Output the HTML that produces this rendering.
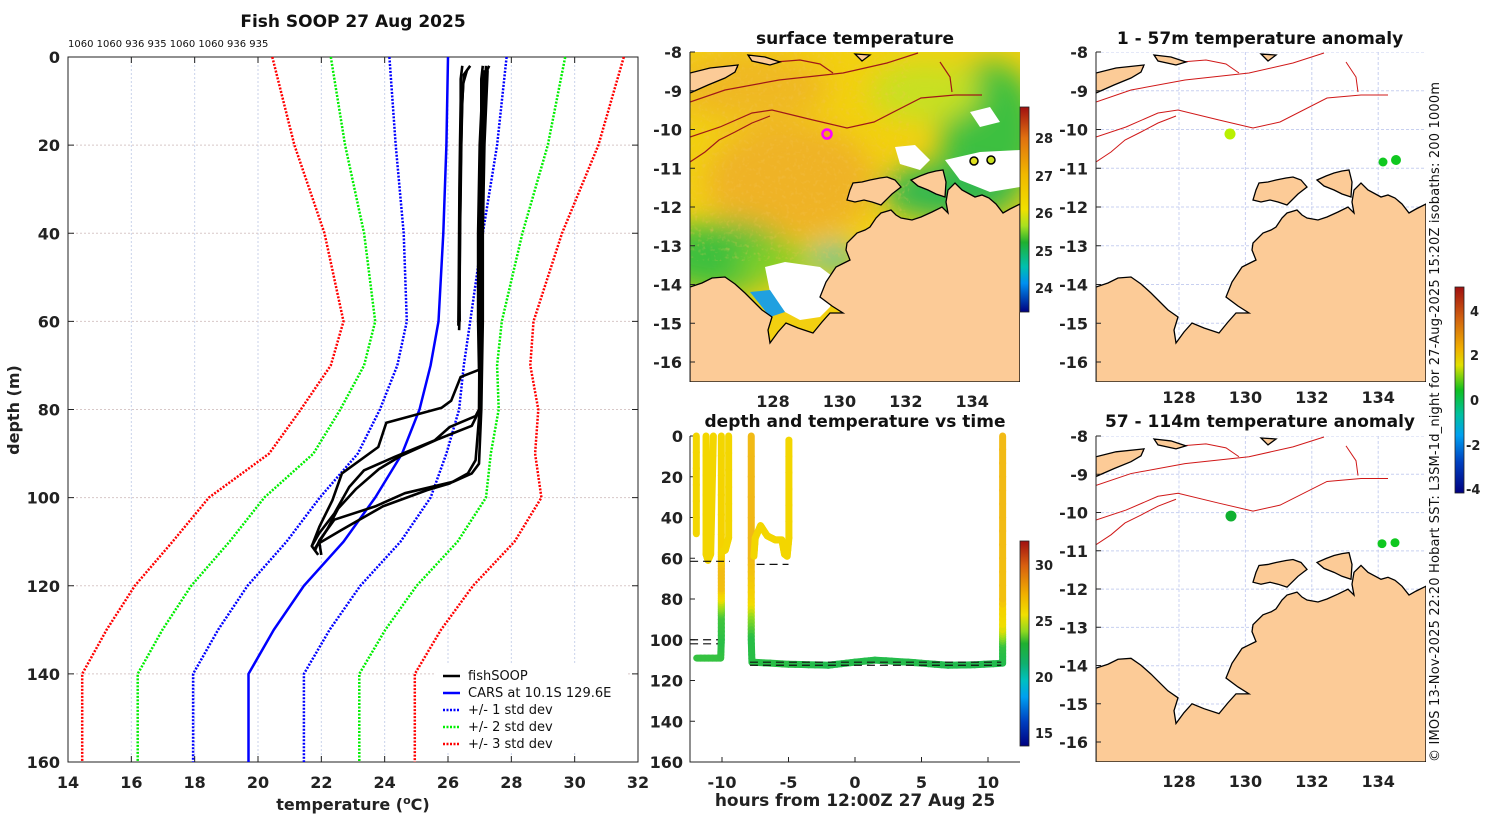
<!DOCTYPE html>
<html><head><meta charset="utf-8">
<style>
html,body{margin:0;padding:0;background:#fff;}
svg{display:block;font-family:"DejaVu Sans","Liberation Sans",sans-serif;}
.t{font-weight:bold;font-size:17px;fill:#111;}
.tk{font-weight:bold;font-size:16px;fill:#222;}
.lg{font-size:13px;fill:#111;}
</style></head>
<body>
<svg id="fig" width="1500" height="820" viewBox="0 0 1500 820" xmlns="http://www.w3.org/2000/svg">
<defs>
  <path id="land" d="M0,235 L12,231 L22,226 L35,225 L45,232 L55,241 L62,248 L72,258 L82,265 L78,278 L80,291 L88,280 L96,271 L108,276 L123,281 L132,270 L140,261 L153,261 L142,254 L130,245 L136,230 L146,215 L152,212 L160,208 L156,198 L157,191 L167,181 L175,178 L180,175 L186,166 L191,161 L201,158 L206,163 L211,166 L222,168 L231,165 L242,160 L252,155 L258,161 L256,150 L258,138 L265,131 L272,138 L285,145 L292,143 L299,146 L306,152 L313,161 L320,157 L330,152 L330,330 L0,330 Z M157,148 L160,138 L163,131 L172,130 L180,128 L190,126 L197,125 L205,128 L211,135 L202,142 L191,153 L182,150 L174,148 L165,150 Z M221,128 L230,124 L238,121 L246,119 L253,118 L256,130 L255,145 L246,142 L238,138 L228,134 Z M0,21 L20,16 L48,13 L45,20 L35,26 L18,33 L0,41 Z M58,3 L75,5 L90,10 L80,13 L62,9 Z M165,2 L180,3 L172,9 Z"/>
  <path id="iso" d="M0,50 L35,38 L89,28 L153,21 L197,11 L228,1 M0,85 L30,75 L62,61 L82,58 L123,68 L157,76 L184,70 L231,46 L265,43 L292,43 M0,110 L15,100 L29,88 L45,80 L62,71 L80,64 M0,30 L20,22 L48,15 M85,10 L110,8 L130,12 L143,21 M250,10 L260,25 L262,40"/>
  <clipPath id="mapclip"><rect x="0" y="0" width="330" height="330"/></clipPath>
  <filter id="blur"><feGaussianBlur stdDeviation="14"/></filter>
  <filter id="speck"><feTurbulence type="fractalNoise" baseFrequency="0.25" numOctaves="2" seed="3"/><feColorMatrix type="matrix" values="0 0 0 0 0.9  0 0 0 0 0.55  0 0 0 0 0.1  0 0 0 2.2 -1.2"/></filter>
  <linearGradient id="cbSST" x1="0" y1="0" x2="0" y2="1">
    <stop offset="0" stop-color="#a01010"/><stop offset="0.15" stop-color="#e07010"/>
    <stop offset="0.33" stop-color="#f0b800"/><stop offset="0.5" stop-color="#f0e000"/>
    <stop offset="0.58" stop-color="#a8e020"/><stop offset="0.66" stop-color="#20b030"/>
    <stop offset="0.78" stop-color="#00c0b0"/><stop offset="0.86" stop-color="#0090f0"/>
    <stop offset="1" stop-color="#000080"/></linearGradient>
  <linearGradient id="cbT" x1="0" y1="0" x2="0" y2="1">
    <stop offset="0" stop-color="#a01010"/><stop offset="0.12" stop-color="#d86010"/>
    <stop offset="0.26" stop-color="#f0b000"/><stop offset="0.36" stop-color="#f0e000"/>
    <stop offset="0.44" stop-color="#90d820"/><stop offset="0.5" stop-color="#20b030"/>
    <stop offset="0.6" stop-color="#10b070"/><stop offset="0.68" stop-color="#00c0c0"/>
    <stop offset="0.76" stop-color="#00a0f0"/><stop offset="0.88" stop-color="#0040c0"/>
    <stop offset="1" stop-color="#000080"/></linearGradient>
  <linearGradient id="cbA" x1="0" y1="0" x2="0" y2="1">
    <stop offset="0" stop-color="#a01010"/><stop offset="0.15" stop-color="#d06010"/>
    <stop offset="0.3" stop-color="#f0b000"/><stop offset="0.38" stop-color="#e0e000"/>
    <stop offset="0.5" stop-color="#10c020"/><stop offset="0.62" stop-color="#00c0a0"/>
    <stop offset="0.72" stop-color="#00a0f0"/><stop offset="0.85" stop-color="#0040c0"/>
    <stop offset="1" stop-color="#000080"/></linearGradient>
</defs>

<!-- LEFT PROFILE CHART -->
<text class="t" x="353" y="27" text-anchor="middle">Fish SOOP 27 Aug 2025</text>
<text x="68" y="47" font-size="10" fill="#111">1060 1060 936 935 1060 1060 936 935</text>
<g id="prof"></g>
<text class="tk" x="0" y="0" transform="translate(19,410) rotate(-90)" text-anchor="middle">depth (m)</text>
<text class="tk" x="353" y="810" text-anchor="middle">temperature (<tspan font-size="11" dy="-6">o</tspan><tspan dy="6">C)</tspan></text>
<g>
  <rect x="436" y="664" width="190" height="88" fill="#fff"/>
  <line x1="443" y1="676" x2="460" y2="676" stroke="#000" stroke-width="2.5"/><text class="lg" x="468" y="680">fishSOOP</text>
  <line x1="443" y1="693" x2="460" y2="693" stroke="#0000ff" stroke-width="2.5"/><text class="lg" x="468" y="697">CARS at 10.1S 129.6E</text>
  <line x1="443" y1="710" x2="460" y2="710" stroke="#0000ff" stroke-width="2.5" stroke-dasharray="2,1.5"/><text class="lg" x="468" y="714">+/- 1 std dev</text>
  <line x1="443" y1="727" x2="460" y2="727" stroke="#00ee00" stroke-width="2.5" stroke-dasharray="2,1.5"/><text class="lg" x="468" y="731">+/- 2 std dev</text>
  <line x1="443" y1="744" x2="460" y2="744" stroke="#ff0000" stroke-width="2.5" stroke-dasharray="2,1.5"/><text class="lg" x="468" y="748">+/- 3 std dev</text>
</g>

<!-- SURFACE TEMPERATURE MAP -->
<text class="t" x="855" y="44" text-anchor="middle">surface temperature</text>
<g transform="translate(690,52)">
  <g clip-path="url(#mapclip)">
    <rect width="330" height="330" fill="#f2d010"/>
    <g filter="url(#blur)">
      <ellipse cx="100" cy="130" rx="85" ry="60" fill="#eeae28" opacity="0.85"/>
      <ellipse cx="60" cy="35" rx="80" ry="35" fill="#eeae28" opacity="0.7"/>
      <ellipse cx="30" cy="205" rx="70" ry="35" fill="#3cc03c"/>
      <ellipse cx="85" cy="210" rx="40" ry="18" fill="#80d028"/>
      <ellipse cx="300" cy="80" rx="50" ry="70" fill="#3cc040"/>
      <ellipse cx="260" cy="140" rx="70" ry="28" fill="#30b850"/>
      <ellipse cx="235" cy="40" rx="55" ry="30" fill="#c8e020"/>
      <ellipse cx="145" cy="205" rx="20" ry="12" fill="#20c0d0"/>
    </g>
    <rect width="200" height="190" filter="url(#speck)" opacity="0.5"/>
    <path d="M75,215 L95,210 L130,215 L150,230 L140,255 L130,265 L110,268 L95,260 L80,240 Z" fill="#fff"/>
    <path d="M60,240 L80,238 L95,260 L80,265 Z" fill="#20a0e0"/>
    <path d="M205,95 L225,93 L240,108 L230,118 L210,112 Z M255,108 L290,100 L330,98 L330,135 L300,140 L270,128 Z M280,60 L300,55 L310,70 L290,75 Z" fill="#fff"/>
    <use href="#iso" fill="none" stroke="#a01818" stroke-width="1.2"/>
    <use href="#land" fill="#fccb97" stroke="#000" stroke-width="1.3"/>
  </g>
  <circle cx="137" cy="82" r="4.5" fill="#f0a020" stroke="#ff00ff" stroke-width="2.5"/>
  <circle cx="284" cy="109" r="4" fill="#e0e020" stroke="#000" stroke-width="1.5"/>
  <circle cx="301" cy="108" r="4" fill="#c8e020" stroke="#000" stroke-width="1.5"/>
</g>
<g id="sstaxes"></g>
<rect x="1020" y="107" width="9" height="205" fill="url(#cbSST)" stroke="#222" stroke-width="0.8"/>
<g class="tk" style="font-size:13px">
  <text x="1035" y="143">28</text><text x="1035" y="181">27</text><text x="1035" y="218">26</text><text x="1035" y="256">25</text><text x="1035" y="293">24</text>
</g>

<!-- DEPTH TIME CHART -->
<text class="t" x="855" y="427" text-anchor="middle">depth and temperature vs time</text>
<g id="dt"></g>
<text class="tk" x="855" y="806" text-anchor="middle" style="font-size:17px">hours from 12:00Z 27 Aug 25</text>
<rect x="1020" y="541" width="9" height="205" fill="url(#cbT)" stroke="#222" stroke-width="0.8"/>
<g class="tk" style="font-size:13px">
  <text x="1035" y="570">30</text><text x="1035" y="626">25</text><text x="1035" y="682">20</text><text x="1035" y="738">15</text>
</g>

<!-- ANOMALY MAPS -->
<text class="t" x="1260" y="44" text-anchor="middle">1 - 57m temperature anomaly</text>
<g transform="translate(1096,52)">
  <g clip-path="url(#mapclip)">
    <rect width="330" height="330" fill="#fff"/>
    <g id="grid1" stroke="#c8d0f0" stroke-width="1" stroke-dasharray="3,2"></g>
    <use href="#iso" fill="none" stroke="#d01818" stroke-width="1"/>
    <use href="#land" fill="#fccb97" stroke="#000" stroke-width="1.3"/>
  </g>
  <circle cx="134" cy="82" r="5.5" fill="#b8f000"/>
  <circle cx="287" cy="110" r="4.5" fill="#10c820"/>
  <circle cx="300" cy="108" r="5" fill="#10c820"/>
</g>
<text class="t" x="1260" y="427" text-anchor="middle">57 - 114m temperature anomaly</text>
<g transform="translate(1096,436) scale(1,0.988)">
  <g clip-path="url(#mapclip)">
    <rect width="330" height="330" fill="#fff"/>
    <g id="grid2" stroke="#c8d0f0" stroke-width="1" stroke-dasharray="3,2"></g>
    <use href="#iso" fill="none" stroke="#d01818" stroke-width="1"/>
    <use href="#land" fill="#fccb97" stroke="#000" stroke-width="1.3"/>
  </g>
  <circle cx="135" cy="81" r="5.5" fill="#10b030"/>
  <circle cx="286" cy="109" r="4.5" fill="#10c820"/>
  <circle cx="299" cy="108" r="4.5" fill="#10c820"/>
</g>
<g id="anaxes"></g>
<rect x="1455" y="287" width="9" height="206" fill="url(#cbA)" stroke="#222" stroke-width="0.8"/>
<g class="tk" style="font-size:13px">
  <text x="1470" y="316">4</text><text x="1470" y="360">2</text><text x="1470" y="405">0</text><text x="1466" y="450">-2</text><text x="1466" y="494">-4</text>
</g>
<text x="0" y="0" transform="translate(1439,762) rotate(-90)" font-size="13" fill="#111" textLength="680">© IMOS 13-Nov-2025 22:20 Hobart SST: L3SM-1d_night for 27-Aug-2025 15:20Z isobaths: 200  1000m</text>
</svg>

<script>
// ===== profile chart data =====
const cDepth = [0,20,40,60,70,80,90,100,110,120,130,140,160];
const cMean  = [26.0,25.95,25.85,25.7,25.45,25.1,24.55,23.7,22.7,21.45,20.5,19.7,19.7];
const cStd   = [1.85,1.6,1.25,1.0,1.05,1.25,1.4,1.75,1.8,1.78,1.76,1.75,1.75];
const sh1D = [2,4,10,20,30,40,50,60,62];
const sh1T = [26.7,26.5,26.45,26.42,26.4,26.38,26.37,26.36,26.35];
const sh2D = [2,5,10,20,30,40,50,60,61];
const sh2T = [26.45,26.4,26.4,26.38,26.36,26.35,26.34,26.33,26.33];
const sh3D = [3,6,12,25,40,55,60];
const sh3T = [26.6,26.48,26.44,26.4,26.38,26.36,26.37];
const dAD = [2,5,20,40,60,71,72.6,78,79.6,83,88.5,94.5,100.6,106.6,111,113];
const dAT = [27.3,27.1,27.0,26.95,26.95,26.98,26.4,26.1,25.8,24.05,23.8,22.65,22.35,21.94,21.7,21.9];
const dBD = [2,5,20,40,60,80,81.5,84,87,90.8,93.8,97.6,103.6,108,111];
const dBT = [27.1,27.05,27.05,27.0,27.0,26.98,26.87,26.05,25.58,24.3,23.35,22.88,22.41,21.94,21.7];
const dCD = [2,20,40,60,80,83.7,86.7,90.5,93.5,98,102.5,107,111.5];
const dCT = [27.2,27.1,27.05,27.05,27.0,26.75,25.7,24.52,23.82,23.1,22.53,22.2,21.8];
const dDD = [3,20,40,60,80,92.3,94.5,96.4,99,102,105,109.7,112];
const dDT = [27.25,27.15,27.1,27.1,27.05,26.98,26.75,26.16,24.64,23.7,22.41,21.94,21.8];
const dED = [3,20,40,60,80,91.5,94.5,96.8,98.3,102,107.3,110.3,113];
const dET = [27.15,27.1,27.05,27.02,27.0,26.87,26.63,26.05,25.34,23.94,22.65,21.94,22.0];
const tempTicks = [14,16,18,20,22,24,26,28,30,32];
const depthTicks = [0,20,40,60,80,100,120,140,160];

// ===== depth-time chart data (null = break) =====
const tHrs = [-11.93,-11.93,null,-11.2,-11.2,-11.05,-10.85,-10.65,null,-11.9,-10.1,-10.05,-10.05,-10.05,-10.05,-10.05,-10.05,-10.05,null,-10.05,-9.75,-9.5,-9.5,null,-7.8,-7.8,-7.8,-7.8,-7.8,-7.75,-5,-2,0,1.5,4,7,9,11.1,11.1,11.1,11.1,11.1,11.1,null,-7.6,-7.5,-7.1,-6.6,-6,-5.5,-5.3,-5.1,-4.97,-4.97];
const dM   = [0,48,null,0,58,61,58,0,null,109,109,100,88,82,75,65,58,0,null,57,56,50,0,null,0,60,80,90,100,111,112,112.5,111,110,111,112.5,112.3,111.5,102,95,80,40,0,null,59,50,44,49,51,51,58,59,50,2];
const tC   = [27,27,null,27,27,27,27,27,null,23,23,22.8,23.2,25,28,28.2,27.5,27,null,27,27,27,27,null,28.2,28.3,27.5,24.5,22.8,22.8,22.8,22.5,22.6,22.6,22.6,22.5,22.5,22.5,23,25.5,28,28.2,28.2,null,27,27,27,27,27,27,27,27,27,27];
const dashT0 = [-12.4,-12.4,-12.4,-7.4,-7.9,-7.9];
const dashT1 = [-9.4,-10.3,-10.3,-5.0,11.0,11.0];
const dashD  = [61.5,100,102,63,111,112.5];
const hourTicks = [-10,-5,0,5,10];
const dtDepthTicks = [0,20,40,60,80,100,120,140,160];
const latTicks = [-8,-9,-10,-11,-12,-13,-14,-15,-16];
const lonTicks = [128,130,132,134];

const NS='http://www.w3.org/2000/svg';
function mk(parent,tag,attrs,txt){const e=document.createElementNS(NS,tag);for(const k in attrs)e.setAttribute(k,attrs[k]);if(txt!==undefined)e.textContent=txt;parent.appendChild(e);return e;}

// ---- profile chart ----
const prof=document.getElementById('prof');
const xT=t=>68+(t-14)*(570/18);
const yD=d=>57+d*(705/160);
for(const t of tempTicks){
  const g=mk(prof,'line',{x1:xT(t),y1:57,x2:xT(t),y2:762,stroke:'#c9d2ea','stroke-width':1,'stroke-dasharray':'2,2'});
  
  
  const l=mk(prof,'text',{x:xT(t),y:788,'text-anchor':'middle',class:'tk'},String(t));
  
  
  mk(prof,'line',{x1:xT(t),y1:762,x2:xT(t),y2:756,stroke:'#222'});
  mk(prof,'line',{x1:xT(t),y1:57,x2:xT(t),y2:63,stroke:'#222'});
}
for(const d of depthTicks){
  const g=mk(prof,'line',{x1:68,y1:yD(d),x2:638,y2:yD(d),stroke:'#d8c8c8','stroke-width':1,'stroke-dasharray':'2,2'});
  
  
  const l=mk(prof,'text',{x:60,y:yD(d)+6,'text-anchor':'end',class:'tk'},String(d));
  
  
  mk(prof,'line',{x1:68,y1:yD(d),x2:74,y2:yD(d),stroke:'#222'});
  mk(prof,'line',{x1:638,y1:yD(d),x2:632,y2:yD(d),stroke:'#222'});
}
const fr=mk(prof,'rect',{x:68,y:57,width:570,height:705,fill:'none',stroke:'#222','stroke-width':1});


function pathFrom(ds,ts){return ds.map((d,i)=>(i?'L':'M')+xT(ts[i]).toFixed(1)+','+yD(d).toFixed(1)).join(' ');}
const stdCols={1:'#0000ff',2:'#00ee00',3:'#ff0000'};
for(const k of [3,2,1]){
  for(const s of [-1,1]){
    const p=mk(prof,'path',{d:pathFrom(cDepth,cMean.map((m,i)=>m+s*k*cStd[i])),fill:'none',stroke:stdCols[k],'stroke-width':2.5,'stroke-dasharray':'2,1.5'});
    
    
  }
}
const mp=mk(prof,'path',{d:pathFrom(cDepth,cMean),fill:'none',stroke:'#0000ff','stroke-width':2.5});


const casts=[[sh1D,sh1T],[sh2D,sh2T],[sh3D,sh3T],[dAD,dAT],[dBD,dBT],[dCD,dCT],[dDD,dDT],[dED,dET]];
for(const [ds,ts] of casts){
  const p=mk(prof,'path',{d:pathFrom(ds,ts),fill:'none',stroke:'#000','stroke-width':2.6,'stroke-linejoin':'round'});
  
  
}

// ---- depth-time chart ----
const dt=document.getElementById('dt');
const xH=h=>855+h*13.3;
const yM=d=>436+d*(326/160);
const stops=[[14,[0,0,127]],[16,[0,48,208]],[18,[0,144,255]],[20,[0,200,200]],[21.5,[16,176,100]],[22.8,[40,190,70]],[24.5,[150,220,30]],[26,[240,222,0]],[27.5,[245,210,0]],[28.5,[240,176,30]],[30,[224,112,16]],[32,[160,16,16]]];
function tcol(t){if(t<=stops[0][0])return 'rgb('+stops[0][1]+')';for(let i=1;i<stops.length;i++){if(t<=stops[i][0]){const f=(t-stops[i-1][0])/(stops[i][0]-stops[i-1][0]);const c=stops[i-1][1].map((v,j)=>Math.round(v+f*(stops[i][1][j]-v)));return 'rgb('+c+')';}}return 'rgb('+stops[stops.length-1][1]+')';}
for(const d of dtDepthTicks){
  const l=mk(dt,'text',{x:683,y:yM(d)+6,'text-anchor':'end',class:'tk'},String(d));
  
  
  mk(dt,'line',{x1:690,y1:yM(d),x2:695,y2:yM(d),stroke:'#222'});
}
for(const h of hourTicks){
  const l=mk(dt,'text',{x:xH(h),y:788,'text-anchor':'middle',class:'tk'},String(h));
  
  
  mk(dt,'line',{x1:xH(h),y1:762,x2:xH(h),y2:757,stroke:'#222'});
}
mk(dt,'path',{d:'M690,436 L690,762 L1020,762',fill:'none',stroke:'#222','stroke-width':1});
for(let i=1;i<tHrs.length;i++){
  if(tHrs[i]===null||tHrs[i-1]===null)continue;
  const n=6;
  for(let k=0;k<n;k++){
    const f0=k/n,f1=(k+1)/n;
    const h0=tHrs[i-1]+(tHrs[i]-tHrs[i-1])*f0,h1=tHrs[i-1]+(tHrs[i]-tHrs[i-1])*f1;
    const d0=dM[i-1]+(dM[i]-dM[i-1])*f0,d1=dM[i-1]+(dM[i]-dM[i-1])*f1;
    const tt=tC[i-1]+(tC[i]-tC[i-1])*(f0+f1)/2;
    const s=mk(dt,'line',{x1:xH(h0),y1:yM(d0),x2:xH(h1),y2:yM(d1),stroke:tcol(tt),'stroke-width':7,'stroke-linecap':'round'});
    
    
  }
}
for(let i=0;i<dashD.length;i++){
  const l=mk(dt,'line',{x1:xH(dashT0[i]),y1:yM(dashD[i]),x2:xH(dashT1[i]),y2:yM(dashD[i]),stroke:'#111','stroke-width':1.2,'stroke-dasharray':'8,5'});
  
  
}

// ---- map axes ----
function mapAxes(parent,x0,y0,h,latScale,lonLabelY){
  for(const la of latTicks){
    const y=y0+(-8-la)*latScale;
    const l=mk(parent,'text',{x:x0-8,y:y+6,'text-anchor':'end',class:'tk'},String(la));
    
    
    mk(parent,'line',{x1:x0,y1:y,x2:x0+5,y2:y,stroke:'#222'});
  }
  if(lonLabelY){
    for(const lo of lonTicks){
      const x=x0+83+(lo-128)*33.2;
      const l=mk(parent,'text',{x:x,y:lonLabelY,'text-anchor':'middle',class:'tk'},String(lo));
      
      
    }
  }
  mk(parent,'line',{x1:x0,y1:y0,x2:x0,y2:y0+h,stroke:'#222'});
}
mapAxes(document.getElementById('sstaxes'),690,52,330,38.75,407);
const an=document.getElementById('anaxes');
mapAxes(an,1096,52,330,38.75,403);
mapAxes(an,1096,436,326,38.25,787);
for(const gid of ['grid1','grid2']){
  const g=document.getElementById(gid);
  for(const lo of lonTicks){mk(g,'line',{x1:83+(lo-128)*33.2,y1:0,x2:83+(lo-128)*33.2,y2:330});}
  for(const la of latTicks){mk(g,'line',{x1:0,y1:(-8-la)*38.75,x2:330,y2:(-8-la)*38.75});}
}
</script>
</body></html>
